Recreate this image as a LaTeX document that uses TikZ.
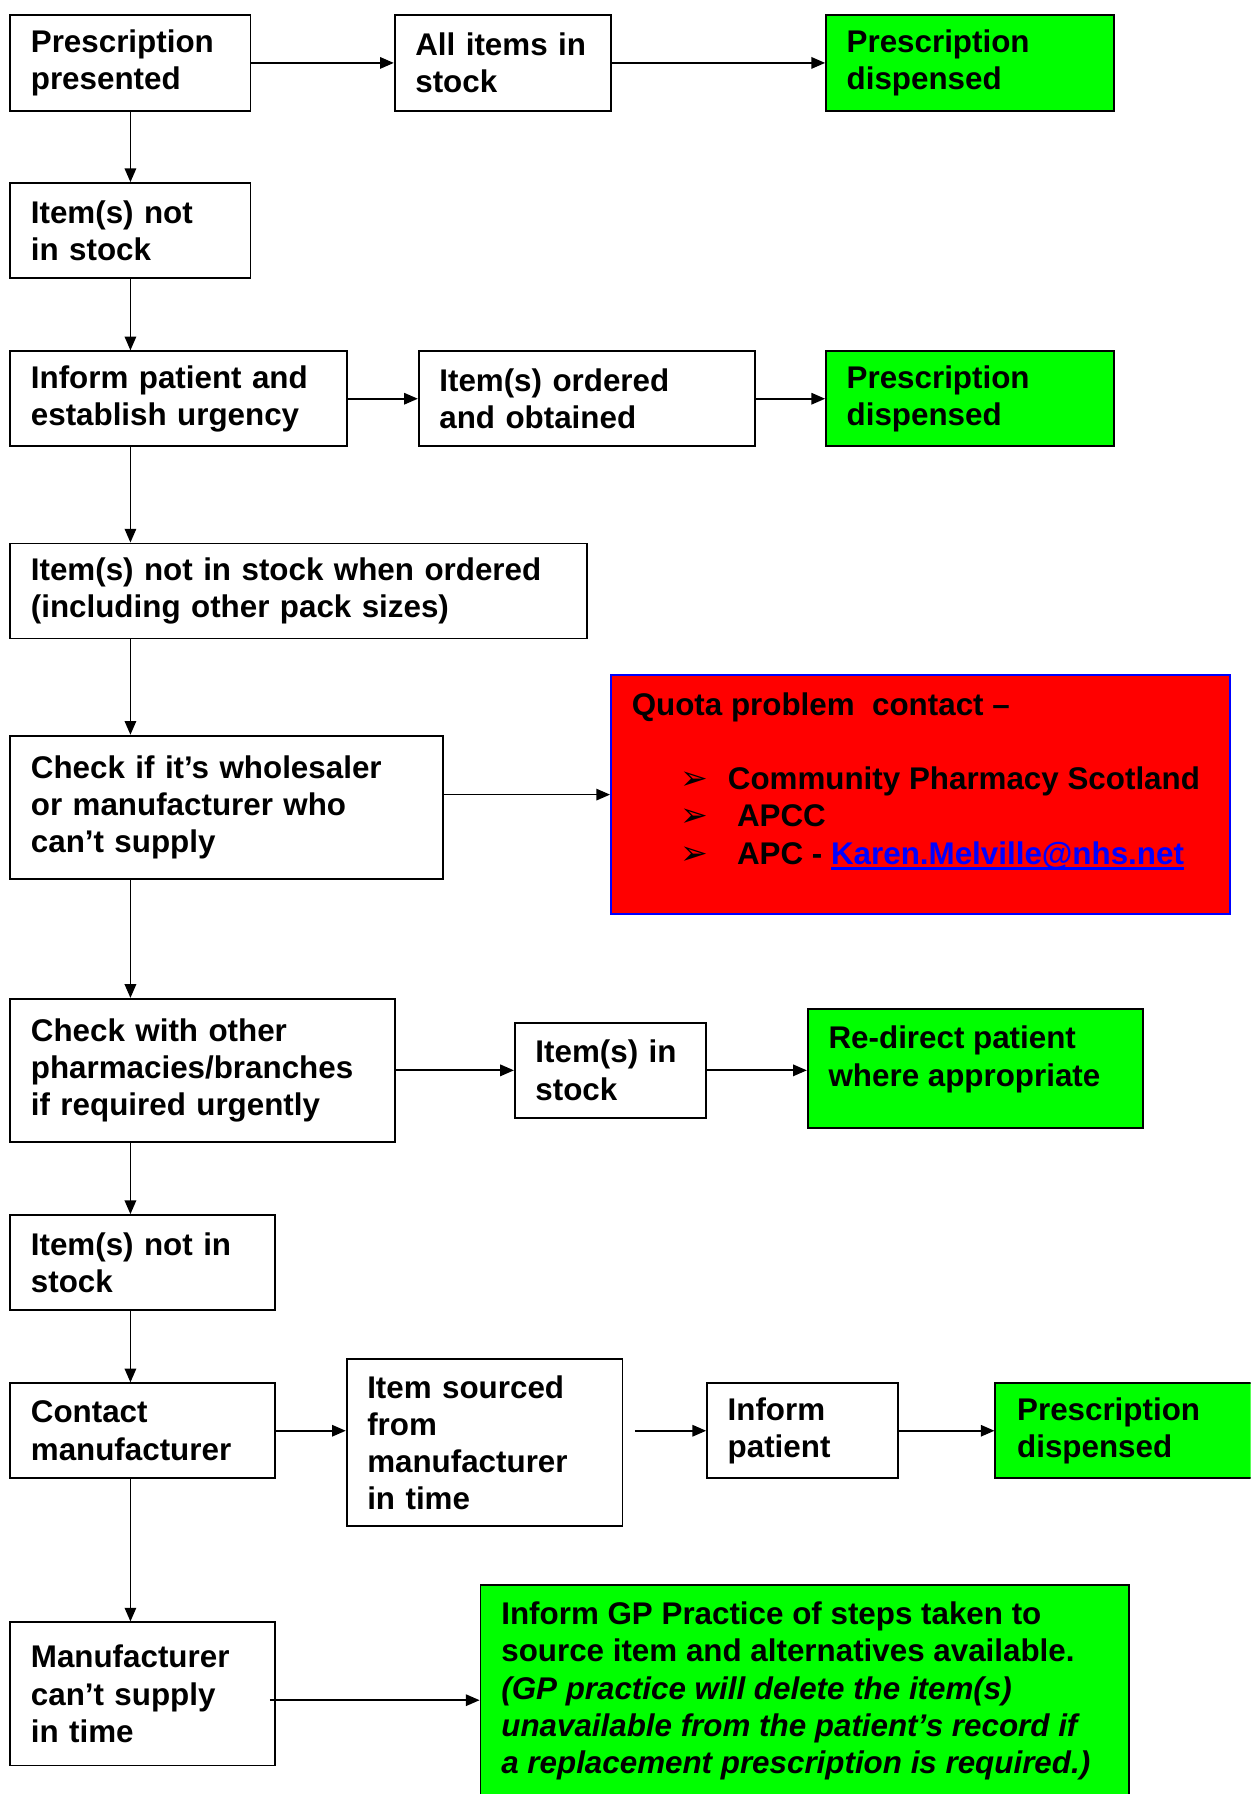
\documentclass[tikz,border=0pt]{standalone}
\usepackage{fontspec}
\setmainfont{Liberation Sans}
\newfontfamily\dingfont{DejaVu Sans}
\usetikzlibrary{arrows.meta}
\definecolor{fgreen}{HTML}{00FF00}
\definecolor{fred}{HTML}{FF0000}
\definecolor{fblue}{HTML}{0000FF}
\newsavebox{\ulinebox}
\newcommand{\myuline}[1]{\sbox{\ulinebox}{#1}\usebox{\ulinebox}\llap{\rule[-5pt]{\wd\ulinebox}{2.4pt}}}
\newcommand{\bul}[1]{\makebox[#1][l]{\hspace{43pt}{\dingfont\fontsize{29}{32.5}\selectfont ➢}}}
\begin{document}
\begin{tikzpicture}[x=1pt,y={(0pt,-1pt)},
  txt/.style={inner sep=0pt, align=left, font=\fontsize{27.4}{32.5}\selectfont\bfseries},
  box/.style={txt, draw, line width=1.6pt, rectangle, fill=white},
  gbox/.style={box, fill=fgreen},
  arr/.style={-{Triangle[length=12pt,width=10pt]}, line width=1.5pt}]
\useasboundingbox (0,0) rectangle (1093,1568);
\clip (0,0) rectangle (1093,1568);
\fill[white] (0,0) rectangle (1093,1568);

\node[box, minimum width=210pt, minimum height=84pt, text width=174pt] (n1) at (114,55) {Prescription\\presented};
\node[box, minimum width=189pt, minimum height=84pt, text width=153pt] (n2) at (439.5,55) {All items in\\stock};
\node[gbox, minimum width=252pt, minimum height=84pt, text width=216pt] (n3) at (848,55) {Prescription\\dispensed};
\node[box, minimum width=210pt, minimum height=83pt, text width=174pt] (n4) at (114,201.5) {Item(s) not\\in stock};
\node[box, minimum width=294pt, minimum height=83pt, text width=258pt] (n5) at (156,348.5) {Inform patient and\\establish urgency};
\node[box, minimum width=294pt, minimum height=83pt, text width=258pt] (n6) at (513,348.5) {Item(s) ordered\\and obtained};
\node[gbox, minimum width=252pt, minimum height=83pt, text width=216pt] (n7) at (848,348.5) {Prescription\\dispensed};
\node[box, minimum width=504pt, minimum height=83pt, text width=468pt] (n8) at (261,516.5) {Item(s) not in stock when ordered\\(including other pack sizes)};

\node[box, fill=fred, draw=fblue, minimum width=541pt, minimum height=209pt] (quota) at (804.5,694.5) {};
\node[txt, anchor=west] (quotatxt) at (552,683) {Quota problem\ \ contact –\\[32pt]
  \bul{84pt}Community Pharmacy Scotland\\
  \bul{92pt}APCC\\
  \bul{92pt}APC - \textcolor{fblue}{\myuline{Karen.Melville@nhs.net}}};

\node[box, minimum width=378pt, minimum height=125pt, text width=342pt] (n10) at (198,705.5) {Check if it’s wholesaler\\or manufacturer who\\can’t supply};
\node[box, minimum width=336pt, minimum height=125pt, text width=300pt] (n11) at (177,935.5) {Check with other\\pharmacies/branches\\if required urgently};
\node[box, minimum width=167pt, minimum height=83pt, text width=131pt] (n12) at (533.5,935.5) {Item(s) in\\stock};
\node[gbox, minimum width=293pt, minimum height=104pt] (n13) at (852.5,934) {};
\node[txt, anchor=west] (n13txt) at (724,926) {Re-direct patient\\where appropriate};
\node[box, minimum width=231pt, minimum height=83pt, text width=195pt] (n14) at (124.5,1103.5) {Item(s) not in\\stock};
\node[box, minimum width=231pt, minimum height=83pt, text width=195pt] (n15) at (124.5,1250.5) {Contact\\manufacturer};
\node[box, minimum width=241pt, minimum height=146pt, text width=205pt] (n16) at (423.5,1261) {Item sourced\\from\\manufacturer\\in time};
\node[box, minimum width=167pt, minimum height=83pt, text width=131pt] (n17) at (701.5,1250.5) {Inform\\patient};
\node[gbox, minimum width=252pt, minimum height=83pt, text width=214pt] (n18) at (996,1250.5) {Prescription\\dispensed};
\node[box, minimum width=231pt, minimum height=125pt, text width=195pt] (n19) at (124.5,1480.5) {Manufacturer\\can’t supply\\in time};
\node[gbox, minimum width=567pt, minimum height=202pt] (n20) at (703.5,1486) {};
\node[txt, anchor=west] (n20txt) at (438,1478) {Inform GP Practice of steps taken to\\source item and alternatives available.\\
  {\itshape (GP practice will delete the item(s)}\\
  {\itshape unavailable from the patient’s record if}\\
  {\itshape a replacement prescription is required.)}};

\coordinate (s16) at ([xshift=10pt]n16.east);
\coordinate (s19) at ([xshift=-5pt]n19.east);

\draw[arr] (n1.east) -- (n2.west);
\draw[arr] (n2.east) -- (n3.west);
\draw[arr] (n1.south) -- (n4.north);
\draw[arr] (n4.south) -- (n5.north -| n4.south);
\draw[arr] (n5.east) -- (n6.west);
\draw[arr] (n6.east) -- (n7.west);
\draw[arr] (n5.south -| n4.south) -- (n8.north -| n4.south);
\draw[arr] (n8.south -| n4.south) -- (n10.north -| n4.south);
\draw[arr] (n10.east |- quota.west) -- (quota.west);
\draw[arr] (n10.south -| n4.south) -- (n11.north -| n4.south);
\draw[arr] (n11.east) -- (n12.west);
\draw[arr] (n12.east) -- (n13.west |- n12.east);
\draw[arr] (n11.south -| n4.south) -- (n14.north -| n4.south);
\draw[arr] (n14.south -| n4.south) -- (n15.north -| n4.south);
\draw[arr] (n15.east) -- (n16.west |- n15.east);
\draw[arr] (s16 |- n17.west) -- (n17.west);
\draw[arr] (n17.east) -- (n18.west);
\draw[arr] (n15.south -| n4.south) -- (n19.north -| n4.south);
\draw[arr] (s19 |- n20.west) -- (n20.west);
\end{tikzpicture}
\end{document}
